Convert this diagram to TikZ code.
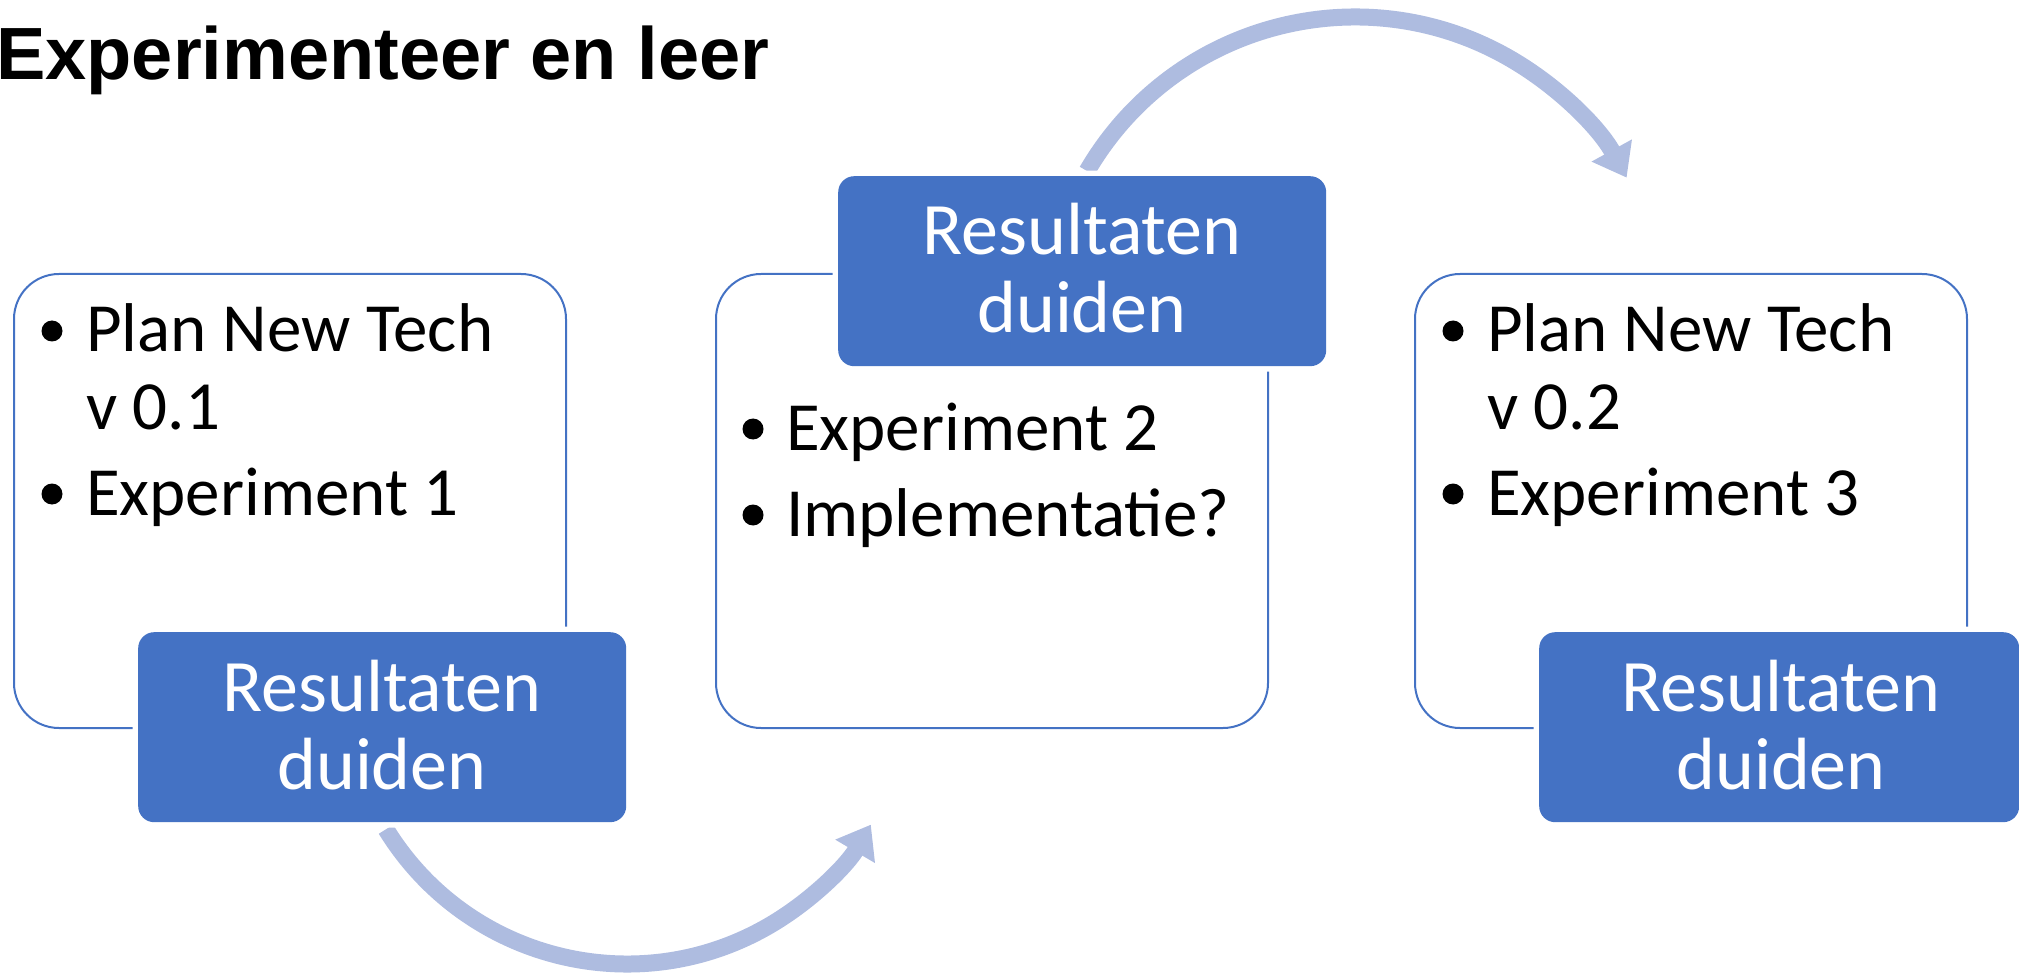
\documentclass[tikz,border=0pt]{standalone}
\usepackage{fontspec}
\setmainfont{Carlito}
\newfontfamily\titlefont{Liberation Sans}
\usetikzlibrary{arrows.meta,calc}
\definecolor{accent}{RGB}{68,114,196}
\definecolor{flow}{RGB}{174,188,224}
\begin{document}
\begin{tikzpicture}[x=1pt,y=1pt,
  panel/.style={draw=accent, line width=2pt, rounded corners=45pt, anchor=north west,
    inner sep=0pt, minimum width=552pt, minimum height=454pt},
  tag/.style={fill=accent, rounded corners=16pt, anchor=north west, inner sep=0pt,
    minimum width=488pt, minimum height=190pt,
    preaction={draw=white, line width=11pt}},
  item/.style={anchor=base west, inner sep=0pt, font=\fontsize{69}{80}\selectfont},
  dot/.style={circle, fill=black, inner sep=0pt, minimum size=21pt},
  tagtext/.style={anchor=base, inner sep=0pt, text=white, font=\fontsize{74}{80}\selectfont},
  flowarrow/.style={draw=flow, line width=17pt, -{Triangle[width=44pt,length=31pt]}}
]
\useasboundingbox (0,0) rectangle (2019,-973);

% title
\node[anchor=base west, inner sep=0pt, font=\titlefont\bfseries\fontsize{74}{80}\selectfont]
  (title) at (-4,-80) {Experimenteer en leer};

% curved flow arrows between the stages
\coordinate (lowc) at (627,-681);
\coordinate (lows) at ($(lowc)+(211.6:283)$);
\coordinate (highc) at (1355,-327);
\coordinate (highs) at ($(highc)+(149.8:310)$);
\draw[flowarrow] (lows) arc[start angle=211.6, end angle=329.5, radius=283];
\draw[flowarrow] (highs) arc[start angle=149.8, end angle=28.8, radius=310];

% outlined stage panels
\node[panel] (p1) at (13,-273) {};
\node[panel] (p2) at (715,-273) {};
\node[panel] (p3) at (1414,-273) {};

% result tags
\node[tag] (t1) at (138,-632) {};
\node[tag] (t2) at (838,-176) {};
\node[tag, minimum width=480pt] (t3) at (1539,-632) {};

\node[tagtext] (t1a) at (382,-711) {Resultaten};
\node[tagtext] (t1b) at (382,-789) {duiden};
\node[tagtext] (t2a) at (1082,-255) {Resultaten};
\node[tagtext] (t2b) at (1082,-333) {duiden};
\node[tagtext] (t3a) at (1781,-711) {Resultaten};
\node[tagtext] (t3b) at (1781,-789) {duiden};

% panel 1 items
\node[dot]  (b1a) at (52,-331) {};
\node[item] (i1a) at (86,-352) {Plan New Tech};
\node[item] (i1b) at (86,-429) {v 0.1};
\node[dot]  (b1c) at (52,-494) {};
\node[item] (i1c) at (86,-515) {Experiment 1};

% panel 2 items
\node[dot]  (b2a) at (753,-429) {};
\node[item] (i2a) at (786,-450) {Experiment 2};
\node[dot]  (b2b) at (753,-515) {};
\node[item] (i2b) at (786,-536) {Implementatie?};

% panel 3 items
\node[dot]  (b3a) at (1453,-331) {};
\node[item] (i3a) at (1487,-352) {Plan New Tech};
\node[item] (i3b) at (1487,-429) {v 0.2};
\node[dot]  (b3c) at (1453,-494) {};
\node[item] (i3c) at (1487,-515) {Experiment 3};
\end{tikzpicture}
\end{document}
